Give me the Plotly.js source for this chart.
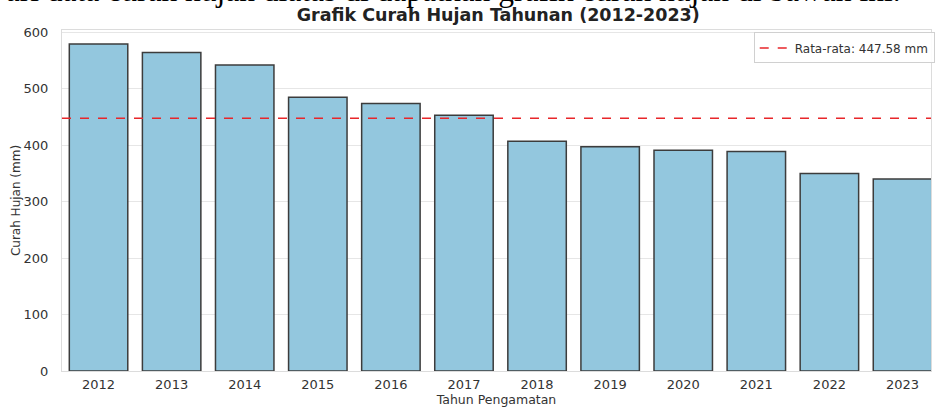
<!DOCTYPE html>
<html>
<head>
<meta charset="utf-8">
<script src="https://cdn.plot.ly/plotly-3.0.1.min.js"></script>
<style>html,body{margin:0;padding:0;background:#fff;}#chart{width:935px;height:407px;}</style>
</head>
<body>
<div id="chart"></div>
<script>
const years = ['2012','2013','2014','2015','2016','2017','2018','2019','2020','2021','2022','2023'];
const rainfall = [579, 564, 542, 485, 474, 453, 407, 397, 391, 389, 350, 340];
const avgValue = 447.58;
const avgLabel = 'Rata-rata: 447.58 mm';
const chartTitle = 'Grafik Curah Hujan Tahunan (2012-2023)';
const xTitle = 'Tahun Pengamatan';
const yTitle = 'Curah Hujan (mm)';
const yTicks = [0, 100, 200, 300, 400, 500, 600];
const introText = 'Dari data curah hujan diatas di dapatkan grafik curah hujan di bawah ini.';

const font = 'DejaVu Sans, sans-serif';

const traces = [{
  type: 'bar',
  x: years,
  y: rainfall,
  width: 0.8,
  marker: {color: '#93c7de', line: {color: '#3c3c3c', width: 1.5}},
  showlegend: false,
  hoverinfo: 'x+y'
}];

const layout = {
  width: 935, height: 407,
  margin: {l: 62, r: 0, t: 30, b: 36, pad: 0},
  paper_bgcolor: '#ffffff', plot_bgcolor: '#ffffff',
  font: {family: font, size: 12, color: '#333333'},
  title: {text: '<b>' + chartTitle + '</b>', font: {family: font, size: 17.5, color: '#222222'},
          x: 0.502, xref: 'paper', xanchor: 'center', y: 18, yref: 'container', yanchor: 'middle'},
  bargap: 0.2,
  xaxis: {
    type: 'category', range: [-0.5, 11.39],
    showgrid: false, zeroline: false,
    showline: true, linecolor: '#dcdcdc', linewidth: 1, mirror: true,
    ticks: '', tickfont: {family: font, size: 13, color: '#333333'},
    ticklabelstandoff: 1,
    title: {text: xTitle, font: {family: font, size: 12.5, color: '#333333'}, standoff: 2}
  },
  yaxis: {
    range: [0, 604], tickvals: yTicks,
    showgrid: true, gridcolor: '#e6e6e6', gridwidth: 1, zeroline: false,
    showline: true, linecolor: '#dcdcdc', linewidth: 1, mirror: true,
    ticks: '', tickfont: {family: font, size: 13, color: '#333333'},
    ticklabelstandoff: 10,
    title: {text: yTitle, font: {family: font, size: 12, color: '#333333'}, standoff: 0}
  },
  shapes: [{
    type: 'line', xref: 'paper', x0: 0, x1: 1, yref: 'y', y0: avgValue, y1: avgValue,
    line: {color: '#e8262a', width: 1.5, dash: 'dash'},
    showlegend: true, name: avgLabel
  }],
  legend: {
    x: 0.796, xanchor: 'left', y: 0.993, yanchor: 'top',
    bgcolor: 'rgba(255,255,255,0.9)', bordercolor: '#d0d0d0', borderwidth: 1,
    font: {family: font, size: 12, color: '#333333'},
    itemwidth: 30, tracegroupgap: 0
  },
  annotations: [{
    text: introText, xref: 'paper', yref: 'paper', x: (907-62)/873, xanchor: 'right',
    y: 1 + (30-10.5)/341, yanchor: 'bottom', showarrow: false,
    font: {family: 'Liberation Serif, Times New Roman, serif', size: 31.5, color: '#000000'}
  }]
};

Plotly.newPlot('chart', traces, layout, {displayModeBar: false, responsive: false});
</script>
</body>
</html>
